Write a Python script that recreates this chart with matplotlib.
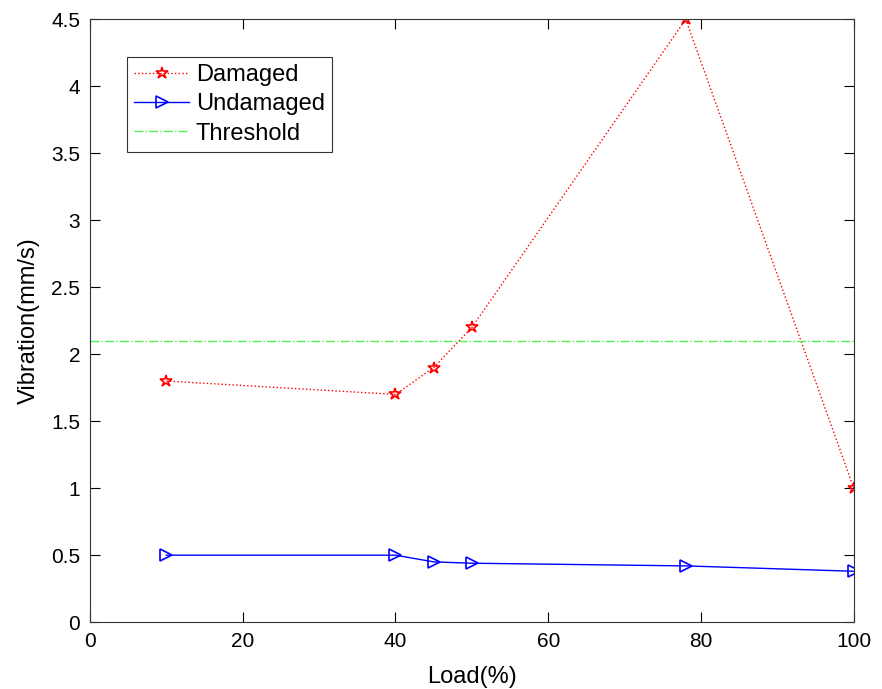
import matplotlib
matplotlib.use("Agg")
import matplotlib.pyplot as plt

# data
load = [10, 40, 45, 50, 78, 100]
damaged = [1.8, 1.7, 1.9, 2.2, 4.5, 1.0]
undamaged = [0.5, 0.5, 0.45, 0.44, 0.42, 0.38]
threshold = 2.1

plt.rcParams["font.family"] = ["Liberation Sans", "DejaVu Sans"]
plt.rcParams["font.size"] = 15

fig = plt.figure(figsize=(8.82, 6.89), dpi=100)
ax = fig.add_axes([0.102, 0.097, 0.866, 0.875])

ax.plot(load, damaged, linestyle=":", color="red", linewidth=1,
        marker="*", markersize=9, markerfacecolor="none",
        markeredgecolor="red", markeredgewidth=1.2, label="Damaged")
ax.plot(load, undamaged, linestyle="-", color="blue", linewidth=1,
        marker=">", markersize=9, markerfacecolor="none",
        markeredgecolor="blue", markeredgewidth=1.2, label="Undamaged")
ax.axhline(threshold, linestyle="-.", color="#55ee55", linewidth=1,
           label="Threshold")

ax.set_xlim(0, 100)
ax.set_ylim(0, 4.5)
ax.set_xticks([0, 20, 40, 60, 80, 100])
ax.set_yticks([0, 0.5, 1, 1.5, 2, 2.5, 3, 3.5, 4, 4.5])
ax.set_yticklabels(["0", "0.5", "1", "1.5", "2", "2.5", "3", "3.5", "4", "4.5"])
ax.tick_params(direction="in", top=True, right=True, length=7, width=0.8, pad=7)
for s in ax.spines.values():
    s.set_linewidth(0.8)
    s.set_color("#333333")

ax.set_xlabel("Load(%)", fontsize=17, labelpad=11)
ax.set_ylabel("Vibration(mm/s)", fontsize=17, labelpad=8)

leg = ax.legend(loc="upper left", bbox_to_anchor=(0.049, 0.937), fancybox=False,
                edgecolor="#333333", framealpha=1, borderpad=0.3, fontsize=17,
                labelspacing=0.3, handlelength=2.3, handletextpad=0.3,
                borderaxespad=0)
leg.get_frame().set_linewidth(0.8)

fig.savefig("out.png", dpi=100)
